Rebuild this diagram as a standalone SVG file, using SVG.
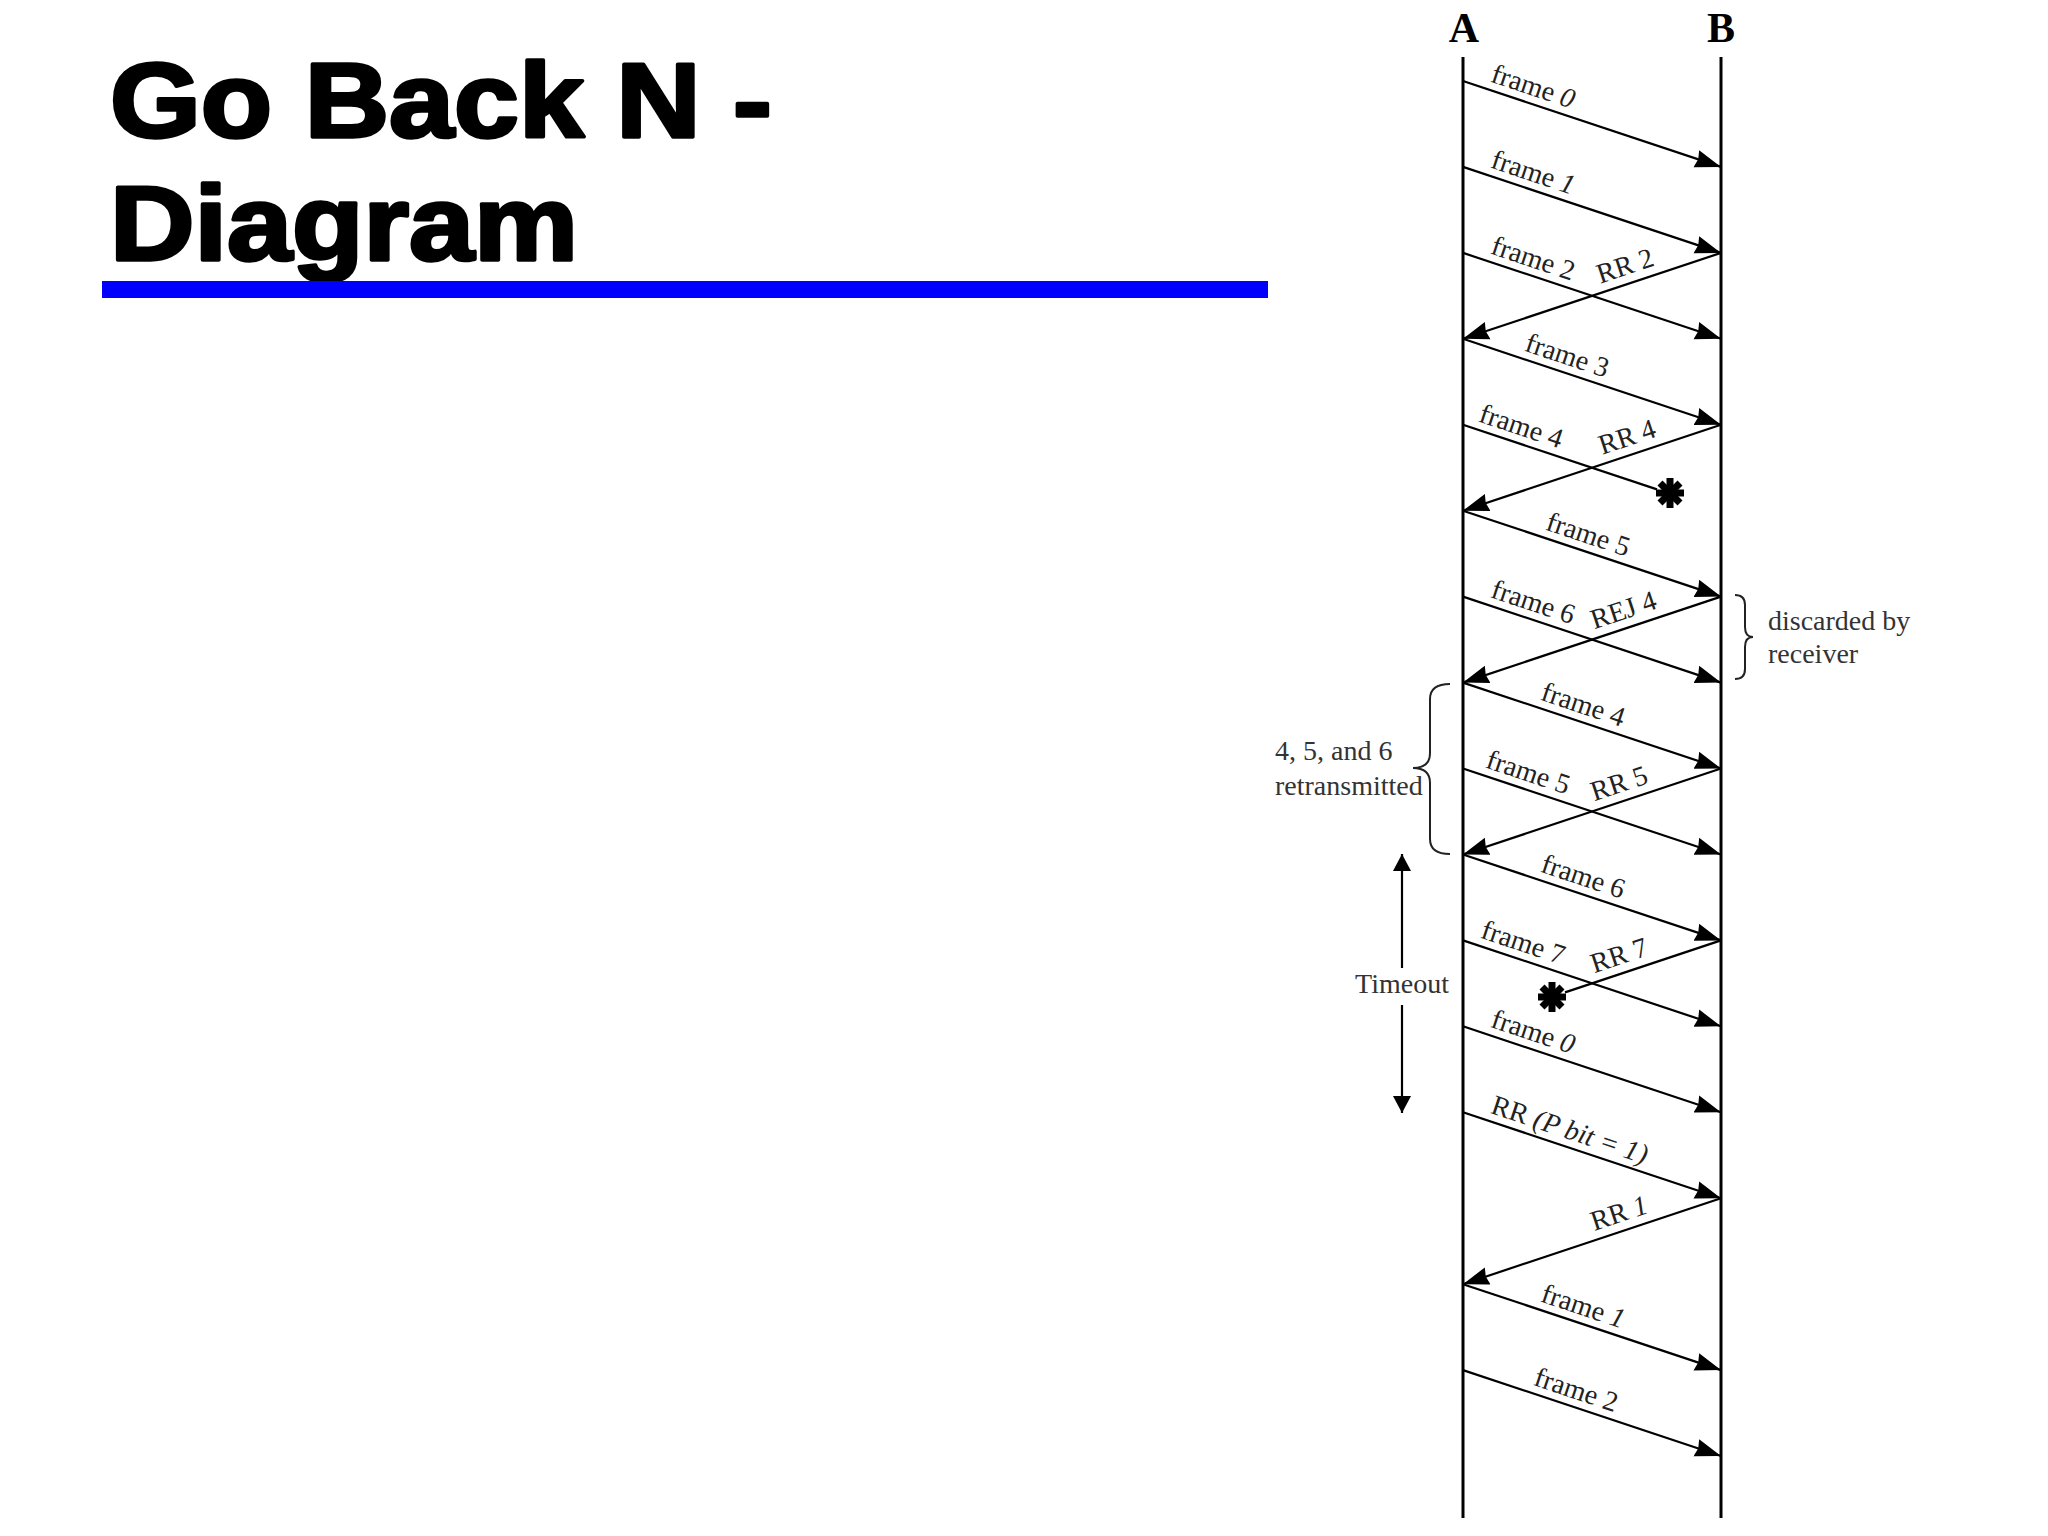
<svg xmlns="http://www.w3.org/2000/svg" width="2048" height="1536" viewBox="0 0 2048 1536">
<style>
.title{font-family:"Liberation Sans",Arial,sans-serif;font-weight:bold;font-size:105px;fill:#000;stroke:#000;stroke-width:3.5;stroke-linejoin:round}
.ll{stroke:#000;stroke-width:3;fill:none}
.hdr{font-family:"Liberation Serif","Times New Roman",serif;font-weight:bold;font-size:42px;fill:#000;text-anchor:middle}
.msg{stroke:#000;stroke-width:2.2;fill:none}
.arr{marker-end:url(#ah)}
.lbl{font-family:"Liberation Serif","Times New Roman",serif;font-size:28px;fill:#222}
.it{font-style:italic}
.brace{stroke:#222;stroke-width:2;fill:none}
.note{font-family:"Liberation Serif","Times New Roman",serif;font-size:28px;fill:#333}
.star{stroke:#000;stroke-width:7;stroke-linecap:butt}
</style>
<defs>
<marker id="ah" markerUnits="userSpaceOnUse" viewBox="0 -10 27 20" refX="26" refY="0" markerWidth="27" markerHeight="20" orient="auto">
<path d="M0,-9 L26,0 L0,9 L2,0 z" fill="#000"/>
</marker>
<marker id="th" markerUnits="userSpaceOnUse" viewBox="0 -10 18 20" refX="17" refY="0" markerWidth="18" markerHeight="20" orient="auto">
<path d="M0,-9 L17,0 L0,9 z" fill="#000"/>
</marker>
</defs>
<rect width="2048" height="1536" fill="#fff"/>

<g id="title">
<text class="title" x="110" y="137" textLength="662" lengthAdjust="spacingAndGlyphs">Go Back N -</text>
<text class="title" x="110" y="260" textLength="468" lengthAdjust="spacingAndGlyphs">Diagram</text>
<rect x="102" y="281" width="1166" height="17" fill="#0000ff"/>
</g>

<g id="station-A">
<text class="hdr" x="1464" y="42">A</text>
<line class="ll" x1="1463" y1="57" x2="1463" y2="1518"/>
</g>
<g id="station-B">
<text class="hdr" x="1721" y="42">B</text>
<line class="ll" x1="1721" y1="57" x2="1721" y2="1518"/>
</g>

<g id="connectors">
<line class="msg arr" x1="1463" y1="81" x2="1721" y2="166.9"/>
<line class="msg arr" x1="1463" y1="166.9" x2="1721" y2="252.9"/>
<line class="msg arr" x1="1463" y1="252.9" x2="1721" y2="338.8"/>
<line class="msg arr" x1="1721" y1="252.9" x2="1463" y2="338.8"/>
<line class="msg arr" x1="1463" y1="338.8" x2="1721" y2="424.8"/>
<line class="msg" x1="1463" y1="424.8" x2="1657" y2="489.4"/>
<line class="msg arr" x1="1721" y1="424.8" x2="1463" y2="510.7"/>
<line class="msg arr" x1="1463" y1="510.7" x2="1721" y2="596.6"/>
<line class="msg arr" x1="1463" y1="596.6" x2="1721" y2="682.6"/>
<line class="msg arr" x1="1721" y1="596.6" x2="1463" y2="682.6"/>
<line class="msg arr" x1="1463" y1="682.6" x2="1721" y2="768.5"/>
<line class="msg arr" x1="1463" y1="768.5" x2="1721" y2="854.5"/>
<line class="msg arr" x1="1721" y1="768.5" x2="1463" y2="854.5"/>
<line class="msg arr" x1="1463" y1="854.5" x2="1721" y2="940.4"/>
<line class="msg arr" x1="1463" y1="940.4" x2="1721" y2="1026.3"/>
<line class="msg" x1="1721" y1="940.4" x2="1565" y2="992.4"/>
<line class="msg arr" x1="1463" y1="1026.3" x2="1721" y2="1112.3"/>
<line class="msg arr" x1="1463" y1="1112.3" x2="1721" y2="1198.2"/>
<line class="msg arr" x1="1721" y1="1198.2" x2="1463" y2="1284.2"/>
<line class="msg arr" x1="1463" y1="1284.2" x2="1721" y2="1370.1"/>
<line class="msg arr" x1="1463" y1="1370.1" x2="1721" y2="1456"/>
</g>

<g id="lost-frames">
<g id="loss-1" transform="translate(1670,493)">
<line class="star" x1="-14" y1="0" x2="14" y2="0"/>
<line class="star" x1="0" y1="-15" x2="0" y2="15"/>
<line class="star" x1="-10" y1="-10" x2="10" y2="10"/>
<line class="star" x1="-10" y1="10" x2="10" y2="-10"/>
</g>
<g id="loss-2" transform="translate(1552,997)">
<line class="star" x1="-14" y1="0" x2="14" y2="0"/>
<line class="star" x1="0" y1="-15" x2="0" y2="15"/>
<line class="star" x1="-10" y1="-10" x2="10" y2="10"/>
<line class="star" x1="-10" y1="10" x2="10" y2="-10"/>
</g>
</g>

<g id="labels">
<text class="lbl" transform="translate(1487,89) rotate(18.42)" y="-8">frame <tspan class="it">0</tspan></text>
<text class="lbl" transform="translate(1487,174.9) rotate(18.42)" y="-8">frame <tspan class="it">1</tspan></text>
<text class="lbl" transform="translate(1487,260.9) rotate(18.42)" y="-8">frame 2</text>
<text class="lbl" transform="translate(1603,292.2) rotate(-18.42)" y="-9">RR 2</text>
<text class="lbl" transform="translate(1521,358.1) rotate(18.42)" y="-8">frame 3</text>
<text class="lbl" transform="translate(1475,428.8) rotate(18.42)" y="-8">frame 4</text>
<text class="lbl" transform="translate(1605,463.4) rotate(-18.42)" y="-9">RR 4</text>
<text class="lbl" transform="translate(1542,537) rotate(18.42)" y="-8">frame 5</text>
<text class="lbl" transform="translate(1487,604.6) rotate(18.42)" y="-8">frame 6</text>
<text class="lbl" transform="translate(1597,637.9) rotate(-18.42)" y="-9">REJ 4</text>
<text class="lbl" transform="translate(1537,707.2) rotate(18.42)" y="-8">frame 4</text>
<text class="lbl" transform="translate(1482,774.8) rotate(18.42)" y="-8">frame 5</text>
<text class="lbl" transform="translate(1597,809.8) rotate(-18.42)" y="-9">RR 5</text>
<text class="lbl" transform="translate(1537,879.1) rotate(18.42)" y="-8">frame 6</text>
<text class="lbl" transform="translate(1477,945.1) rotate(18.42)" y="-8">frame 7</text>
<text class="lbl" transform="translate(1597,981.7) rotate(-18.42)" y="-9">RR 7</text>
<text class="lbl" transform="translate(1487,1034.3) rotate(18.42)" y="-8">frame <tspan class="it">0</tspan></text>
<text class="lbl" transform="translate(1487,1120.3) rotate(18.42)" y="-8">RR <tspan class="it">(P bit = 1)</tspan></text>
<text class="lbl" transform="translate(1597,1239.5) rotate(-18.42)" y="-9">RR <tspan class="it">1</tspan></text>
<text class="lbl" transform="translate(1537,1308.8) rotate(18.42)" y="-8">frame <tspan class="it">1</tspan></text>
<text class="lbl" transform="translate(1530,1392.4) rotate(18.42)" y="-8">frame 2</text>
</g>

<g id="discarded-note">
<path class="brace" d="M1735,595 Q1745,595 1745,605 L1745,627 Q1745,637 1753,637 Q1745,637 1745,647 L1745,669 Q1745,679 1735,679"/>
<text class="note" x="1768" y="630">discarded by</text>
<text class="note" x="1768" y="663">receiver</text>
</g>

<g id="retransmit-note">
<path class="brace" d="M1450,684 Q1430,684 1430,699 L1430,753 Q1430,768 1413,768 Q1430,768 1430,783 L1430,839 Q1430,854 1450,854"/>
<text class="note" x="1275" y="760">4, 5, and 6</text>
<text class="note" x="1275" y="795">retransmitted</text>
</g>

<g id="timeout">
<line class="msg" x1="1402" y1="968" x2="1402" y2="854" marker-end="url(#th)"/>
<line class="msg" x1="1402" y1="1005" x2="1402" y2="1113" marker-end="url(#th)"/>
<text class="note" x="1402" y="993" text-anchor="middle">Timeout</text>
</g>
</svg>
